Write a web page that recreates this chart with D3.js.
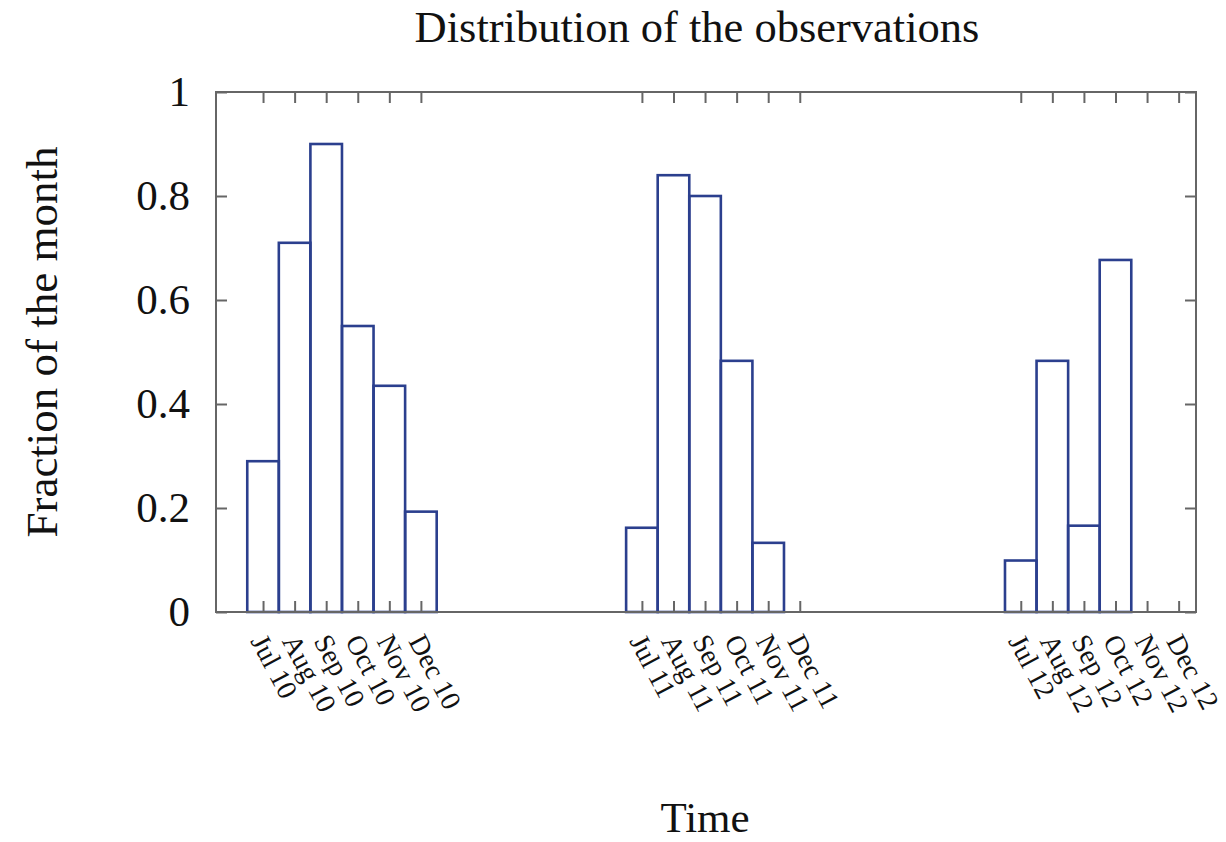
<!DOCTYPE html>
<html>
<head>
<meta charset="utf-8">
<script src="https://cdn.jsdelivr.net/npm/d3@7"></script>
<style>
  html, body { margin: 0; padding: 0; background: #fff; }
  svg { display: block; }
  text { font-family: "Liberation Serif", "Times New Roman", serif; fill: #111; }
</style>
</head>
<body>
<svg id="chart" width="1226" height="842"></svg>
<script>
// ---- data ----
const monthLabels = ["Jul 10","Aug 10","Sep 10","Oct 10","Nov 10","Dec 10",
                     "Jul 11","Aug 11","Sep 11","Oct 11","Nov 11","Dec 11",
                     "Jul 12","Aug 12","Sep 12","Oct 12","Nov 12","Dec 12"];
// month offset from Jul 2010
const monthIndex = [0,1,2,3,4,5, 12,13,14,15,16,17, 24,25,26,27,28,29];
const fraction2010 = [0.29, 0.71, 0.90, 0.55, 0.435, 0.193];
const fraction2011 = [0.162, 0.84, 0.80, 0.483, 0.133, 0];
const fraction2012 = [0.099, 0.483, 0.166, 0.677, 0, 0];
const yTicks = [0, 0.2, 0.4, 0.6, 0.8, 1];
const yTickLabels = ["0","0.2","0.4","0.6","0.8","1"];

const values = fraction2010.concat(fraction2011, fraction2012);
const data = monthLabels.map((m, i) => ({label: m, idx: monthIndex[i], value: values[i]}));

// ---- layout ----
const svg = d3.select("#chart");
const mLeft = 216, mRight = 1196, mTop = 92, mBottom = 612;
const x = d3.scaleLinear().domain([-1.49, 29.55]).range([mLeft, mRight]);
const y = d3.scaleLinear().domain([0, 1]).range([mBottom, mTop]);

const frameColor = "#666";
const barColor = "#2b3f8e";

// bars
svg.append("g").selectAll("rect")
  .data(data.filter(d => d.value > 0))
  .join("rect")
  .attr("x", d => x(d.idx - 0.5))
  .attr("width", d => x(d.idx + 0.5) - x(d.idx - 0.5))
  .attr("y", d => y(d.value))
  .attr("height", d => y(0) - y(d.value))
  .attr("fill", "none")
  .attr("stroke", barColor)
  .attr("stroke-width", 2.6);

// axes with inward ticks
const tickLen = 11;
const xb = d3.axisBottom(x).tickValues(monthIndex).tickSize(-tickLen).tickFormat("");
const xt = d3.axisTop(x).tickValues(monthIndex).tickSize(-tickLen).tickFormat("");
const yl = d3.axisLeft(y).tickValues(yTicks).tickSize(-tickLen).tickFormat("");
const yr = d3.axisRight(y).tickValues(yTicks).tickSize(-tickLen).tickFormat("");

function style(g) {
  g.select(".domain").remove();
  g.selectAll(".tick line").attr("stroke", frameColor).attr("stroke-width", 2);
}
svg.append("g").attr("transform", `translate(0,${mBottom})`).call(xb).call(style);
svg.append("g").attr("transform", `translate(0,${mTop})`).call(xt).call(style);
svg.append("g").attr("transform", `translate(${mLeft},0)`).call(yl).call(style);
svg.append("g").attr("transform", `translate(${mRight},0)`).call(yr).call(style);

// frame
svg.append("rect")
  .attr("x", mLeft).attr("y", mTop)
  .attr("width", mRight - mLeft).attr("height", mBottom - mTop)
  .attr("fill", "none").attr("stroke", frameColor).attr("stroke-width", 2);

// y tick labels
svg.append("g").selectAll("text")
  .data(yTicks)
  .join("text")
  .attr("x", 190)
  .attr("y", d => y(d))
  .attr("dy", "0.33em")
  .attr("text-anchor", "end")
  .attr("font-size", 43)
  .text((d, i) => yTickLabels[i]);

// x tick labels (rotated)
svg.append("g").selectAll("text")
  .data(data)
  .join("text")
  .attr("transform", d => `translate(${x(d.idx) - 13},${641}) rotate(62)`)
  .attr("text-anchor", "start")
  .attr("font-size", 28)
  .text(d => d.label);

// title & axis labels
svg.append("text")
  .attr("x", 697).attr("y", 42)
  .attr("text-anchor", "middle")
  .attr("font-size", 44.5)
  .text("Distribution of the observations");

svg.append("text")
  .attr("transform", `translate(57,${342}) rotate(-90)`)
  .attr("text-anchor", "middle")
  .attr("font-size", 45)
  .text("Fraction of the month");

svg.append("text")
  .attr("x", 705).attr("y", 832)
  .attr("text-anchor", "middle")
  .attr("font-size", 43)
  .text("Time");
</script>
</body>
</html>
